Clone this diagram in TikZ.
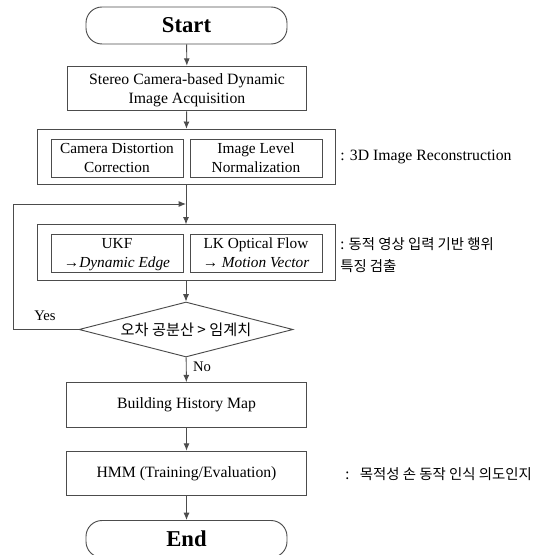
\documentclass[tikz,border=0pt]{standalone}
\usepackage{fontspec}
\setmainfont{Liberation Serif}
\newfontfamily\kr{Noto Sans CJK KR}
\usetikzlibrary{arrows.meta,shapes.geometric}
\newcommand{\ls}{\rule[-3.1pt]{0pt}{13.8pt}}
\tikzset{
  ln/.style={draw=black!70, line width=0.7pt},
  arr/.style={ln, -{Latex[length=5.5pt,width=4.5pt]}},
  term/.style={ln, rounded corners=12pt, minimum width=150.75pt, minimum height=27.75pt, inner sep=0pt, font=\fontsize{17}{20}\selectfont\bfseries},
  box/.style={ln, minimum width=179.5pt, minimum height=33.5pt, inner sep=0pt, align=center, font=\fontsize{11.8}{14.25}\selectfont},
  outer/.style={ln, minimum width=223.5pt, minimum height=41.5pt, inner sep=0pt},
  inner/.style={ln, minimum width=99pt, minimum height=28.5pt, inner sep=0pt, align=center, font=\fontsize{11.5}{13.8}\selectfont},
  side/.style={anchor=west, inner sep=0pt, align=left, font=\fontsize{11.8}{14.25}\selectfont},
  krside/.style={anchor=west, inner sep=0pt, align=left, font=\kr\fontsize{10.8}{16.5}\selectfont},
  lbl/.style={inner sep=0pt, font=\fontsize{11}{13}\selectfont}
}
\begin{document}
\begin{tikzpicture}[x=0.75pt,y=-0.75pt]
\useasboundingbox (0,0) rectangle (539,555);
% nodes
\node[term] (start) at (186.5,25.5) {Start};
\node[box] (acq) at (187,88.5) {Stereo Camera-based Dynamic\ls\\Image Acquisition\ls};
\node[outer] (rec) at (186,157) {};
\node[inner] (cdc) at (117,158) {Camera Distortion\ls\\Correction\ls};
\node[inner] (iln) at (256,158) {Image Level\ls\\Normalization\ls};
\node[side] (recl) at (340,157) {: 3D Image Reconstruction};
\node[outer] (feat) at (186,252.5) {};
\node[inner] (ukf) at (117,253) {UKF\ls\\→\textit{Dynamic Edge}\ls};
\node[inner] (lk) at (256,253) {LK Optical Flow\ls\\→ \textit{Motion Vector}\ls};
\node[krside] (featl) at (340,255) {: 동적 영상 입력 기반 행위\\특징 검출};
\node[ln, diamond, minimum width=160.5pt, minimum height=41.25pt, inner sep=0pt] (dia) at (186,329.5) {};
\node[inner sep=0pt, font=\kr\fontsize{11.4}{12}\selectfont] (diat) at (186,330) {오차 공분산 > 임계치};
\node[box] (bhm) at (186.5,405) {Building History Map};
\node[box] (hmm) at (186.5,473.5) {HMM (Training/Evaluation)};
\node[krside] (hmml) at (345,474) {:\hspace{8pt}목적성 손 동작 인식 의도인지};
\node[term] (end) at (186.5,539) {End};
\node[lbl] (yes) at (45,316) {Yes};
\node[lbl] (no) at (202,367) {No};
\coordinate (join) at (186,204);
\coordinate (lc) at (13,329.5);
% connectors
\draw[arr] (start) -- (acq);
\draw[arr] (acq) -- (rec);
\draw[arr] (rec) -- (feat);
\draw[arr] (dia.west) -- (lc) |- (join);
\draw[arr] (feat) -- (dia);
\draw[arr] (dia) -- (bhm);
\draw[arr] (bhm) -- (hmm);
\draw[arr] (hmm) -- (end);
\end{tikzpicture}
\end{document}
